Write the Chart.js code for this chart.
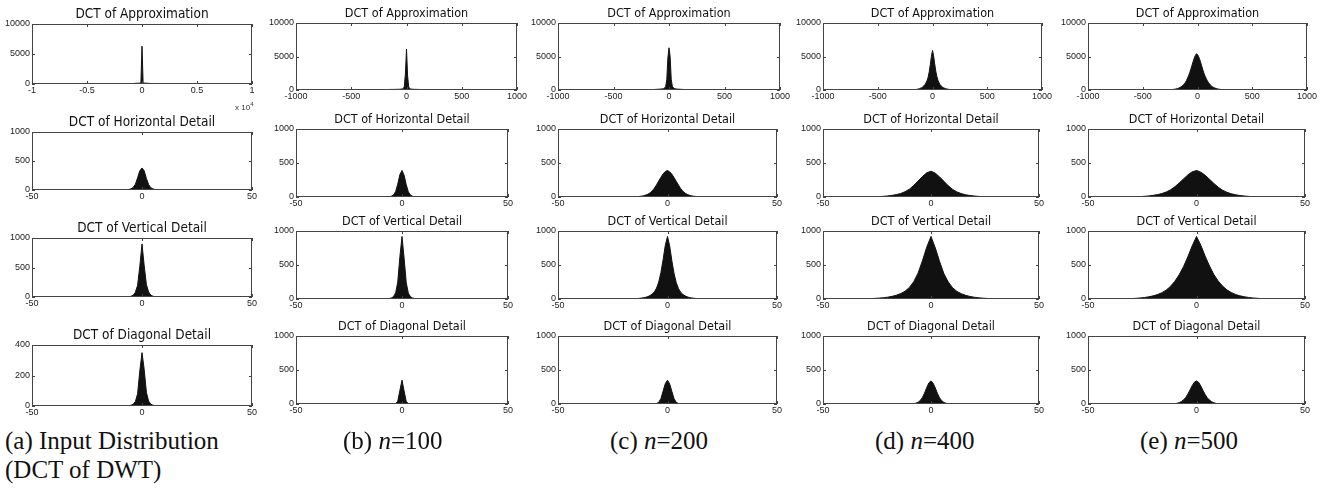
<!DOCTYPE html>
<html>
<head>
<meta charset="utf-8">
<script src="https://cdn.jsdelivr.net/npm/chart.js@4.4.1/dist/chart.umd.min.js"></script>
<style>
  body { margin: 0; background: #fff; }
  #wrap { position: relative; width: 1327px; height: 491px; overflow: hidden; background: #fff; }
  canvas { position: absolute; }
  .cap { position: absolute; font-family: "Liberation Serif", "Times New Roman", serif; font-size: 25px; color: #111; white-space: nowrap; }
  .cap i { font-style: italic; }
  .exp { position: absolute; font-family: "Liberation Sans", Arial, sans-serif; font-size: 8px; color: #333; }
</style>
</head>
<body>
<div id="wrap"></div>
<script>
// ---- bins (x values of histogram bins) ----
const approxBinsA = [-1000, -900, -800, -700, -600, -500, -400, -300, -200, -100, 0, 100, 200, 300, 400, 500, 600, 700, 800, 900, 1000];
const approxBins = [-300, -290, -280, -270, -260, -250, -240, -230, -220, -210,
  -200, -190, -180, -170, -160, -150, -140, -130, -120, -110, -100, -90, -80, -70, -60, -50, -40,
  -30, -20, -10, 0, 10, 20, 30,
  40, 50, 60, 70, 80, 90, 100, 110, 120, 130, 140, 150, 160, 170, 180, 190, 200,
  210, 220, 230, 240, 250, 260, 270, 280, 290, 300];
const binsN = [-8, -7, -6, -5, -4, -3, -2, -1, 0, 1, 2, 3, 4, 5, 6, 7, 8];
const binsM = [-16, -15, -14, -13, -12, -11, -10, -9, -8, -7, -6, -5, -4, -3, -2, -1, 0,
  1, 2, 3, 4, 5, 6, 7, 8, 9, 10, 11, 12, 13, 14, 15, 16];
const binsW = [-30, -28, -26, -24, -22, -20, -18, -16, -14, -12, -10, -8, -6, -4, -2, 0,
  2, 4, 6, 8, 10, 12, 14, 16, 18, 20, 22, 24, 26, 28, 30];

// ---- counts, row 1: DCT of Approximation ----
const approxA = [0, 0, 80, 100, 110, 120, 130, 140, 150, 160, 6300, 160, 150, 140, 130, 120, 110, 100, 80, 0, 0];
const approxB = [20, 0, 25, 0, 20, 30, 0, 25, 30, 20,
  60, 70, 60, 80, 70, 80, 90, 80, 90, 100, 90, 100, 110, 100, 120, 130, 150,
  200, 500, 2400, 6100, 2100, 450, 180,
  140, 120, 110, 100, 100, 90, 90, 80, 80, 70, 70, 60, 60, 50, 50, 40, 40,
  30, 20, 0, 25, 0, 20, 30, 0, 20, 0];
const approxC = [20, 0, 20, 30, 0, 25, 20, 0, 30, 20,
  40, 50, 50, 60, 60, 70, 70, 80, 90, 100, 110, 120, 130, 150, 170, 200, 300,
  500, 1500, 4800, 6300, 5000, 1600, 550,
  320, 210, 170, 150, 130, 120, 110, 100, 90, 80, 70, 60, 60, 50, 50, 40, 40,
  30, 0, 20, 25, 0, 30, 20, 0, 20, 0];
const approxD = [0, 0, 0, 5, 5, 10, 10, 15, 15, 20,
  20, 25, 35, 45, 60, 80, 110, 150, 200, 270, 350, 450, 600, 800, 1050, 1400, 1900,
  2700, 3800, 5000, 5900, 5100, 3900, 2800,
  2000, 1450, 1050, 780, 590, 450, 350, 270, 210, 160, 120, 90, 70, 50, 40, 30, 25,
  20, 15, 15, 10, 10, 5, 5, 0, 0, 0];
const approxE = [10, 15, 20, 25, 35, 45, 60, 75, 95, 120,
  150, 190, 240, 300, 380, 470, 590, 740, 920, 1150, 1450, 1800, 2200, 2650, 3150, 3700, 4250,
  4750, 5150, 5400, 5300, 5000, 4550, 4050,
  3500, 2950, 2450, 2050, 1700, 1380, 1110, 890, 710, 560, 440, 350, 280, 220, 175, 140, 110,
  90, 70, 55, 45, 35, 25, 20, 15, 10, 5];

// ---- row 2: DCT of Horizontal Detail ----
const horizA = [0, 5, 10, 20, 45, 100, 210, 330, 380, 330, 200, 95, 40, 18, 8, 4, 0];
const horizB = [0, 2, 5, 12, 30, 80, 190, 330, 390, 320, 180, 75, 28, 10, 4, 2, 0];
const horizC = [0, 3, 5, 8, 12, 18, 28, 40, 60, 90, 130, 180, 235, 290, 340, 375, 390,
  370, 335, 285, 230, 175, 125, 85, 58, 38, 26, 17, 11, 7, 4, 2, 0];
const horizD = [0, 2, 4, 6, 10, 16, 24, 35, 52, 78, 115, 170, 235, 300, 355, 380,
  350, 295, 230, 165, 112, 75, 50, 33, 22, 15, 9, 5, 3, 2, 0];
const horizE = [0, 3, 6, 10, 16, 24, 35, 50, 72, 105, 150, 205, 265, 325, 370, 390,
  365, 320, 260, 200, 145, 100, 70, 48, 33, 22, 15, 9, 5, 3, 0];

// ---- row 3: DCT of Vertical Detail ----
const vertA = [0, 2, 5, 12, 30, 80, 200, 520, 900, 530, 210, 85, 32, 12, 5, 2, 0];
const vertB = [2, 4, 8, 15, 35, 90, 250, 620, 920, 600, 240, 85, 33, 14, 7, 4, 2];
const vertC = [3, 4, 6, 9, 13, 18, 25, 35, 50, 72, 105, 160, 250, 390, 580, 790, 920,
  780, 560, 375, 240, 155, 100, 68, 46, 32, 22, 16, 11, 8, 5, 4, 3];
const vertD = [4, 6, 9, 13, 19, 27, 39, 56, 80, 115, 170, 255, 380, 560, 760, 920,
  750, 550, 370, 250, 165, 112, 78, 54, 38, 26, 18, 12, 8, 5, 3];
const vertE = [6, 10, 15, 22, 32, 46, 65, 92, 130, 185, 260, 355, 475, 620, 780, 920,
  790, 630, 485, 360, 265, 190, 135, 95, 67, 47, 33, 23, 15, 10, 6];

// ---- row 4: DCT of Diagonal Detail ----
const diagA = [0, 0, 2, 5, 12, 30, 80, 230, 350, 240, 90, 32, 12, 5, 2, 0, 0];
const diagB = [0, 0, 0, 0, 2, 8, 40, 200, 350, 190, 35, 6, 1, 0, 0, 0, 0];
const diagC = [0, 0, 2, 8, 25, 80, 190, 300, 350, 295, 185, 78, 24, 7, 2, 0, 0];
const diagD = [0, 0, 0, 0, 0, 0, 0, 2, 5, 12, 25, 50, 95, 160, 240, 310, 340,
  305, 235, 155, 90, 48, 22, 10, 4, 1, 0, 0, 0, 0, 0, 0, 0];
const diagE = [0, 0, 0, 0, 0, 2, 5, 10, 20, 35, 60, 95, 145, 205, 270, 320, 340,
  318, 265, 200, 140, 90, 57, 33, 18, 9, 4, 2, 0, 0, 0, 0, 0];

// ---- ticks and texts ----
const rowTitles = ['DCT of Approximation', 'DCT of Horizontal Detail', 'DCT of Vertical Detail', 'DCT of Diagonal Detail'];
const approxXTicksA = [-10000, -5000, 0, 5000, 10000];
const approxXLabelsA = ['-1', '-0.5', '0', '0.5', '1'];
const approxXTicks = [-1000, -500, 0, 500, 1000];
const detailXTicks = [-50, 0, 50];
const approxYTicks = [0, 5000, 10000];
const detailYTicks = [0, 500, 1000];
const diagYTicksA = [0, 200, 400];
const captions = [
  '(a) Input Distribution<br>(DCT of DWT)',
  '(b) <i>n</i>=100', '(c) <i>n</i>=200', '(d) <i>n</i>=400', '(e) <i>n</i>=500'
];

// ---- panel geometry (plot box in page pixels) ----
const colLeft = [32, 296, 558, 823, 1088];
const colRightApprox = [252, 517, 780, 1042, 1307];
const colRightDetail = [252, 508, 777, 1039, 1305];
const rowTopA = [24, 132, 238, 345], rowBottomA = [84, 190, 297, 406];
const rowTop = [23, 129, 231, 336], rowBottom = [90, 197, 299, 404];
const capLeft = [5, 343, 610, 875, 1140];

const YW = 40, TH = 18, XH = 14, RP = 16;
const wrap = document.getElementById('wrap');

const boxPlugin = {
  id: 'box',
  afterDraw(chart) {
    const { ctx, chartArea: a, scales: { x, y } } = chart;
    ctx.save();
    ctx.strokeStyle = '#444';
    ctx.lineWidth = 1;
    ctx.strokeRect(a.left + 0.5, a.top + 0.5, a.right - a.left - 1, a.bottom - a.top - 1);
    ctx.beginPath();
    x.ticks.forEach(t => {
      const px = Math.round(x.getPixelForValue(t.value)) + 0.5;
      ctx.moveTo(px, a.bottom); ctx.lineTo(px, a.bottom - 3);
      ctx.moveTo(px, a.top); ctx.lineTo(px, a.top + 3);
    });
    y.ticks.forEach(t => {
      const py = Math.round(y.getPixelForValue(t.value)) + 0.5;
      ctx.moveTo(a.left, py); ctx.lineTo(a.left + 3, py);
      ctx.moveTo(a.right, py); ctx.lineTo(a.right - 3, py);
    });
    ctx.stroke();
    ctx.restore();
  }
};

function makePanel(col, row, bins, counts, xTicks, yTicks, xLabels) {
  const left = colLeft[col];
  const right = row === 0 ? colRightApprox[col] : colRightDetail[col];
  const top = col === 0 ? rowTopA[row] : rowTop[row];
  const bottom = col === 0 ? rowBottomA[row] : rowBottom[row];
  const cv = document.createElement('canvas');
  cv.width = right - left + YW + RP;
  cv.height = bottom - top + TH + XH;
  cv.style.left = (left - YW) + 'px';
  cv.style.top = (top - TH) + 'px';
  wrap.appendChild(cv);
  const titleSize = col === 0 ? 13.5 : 12.5;
  const tickFont = { family: '"Liberation Sans", Arial, sans-serif', size: 9 };

  new Chart(cv.getContext('2d'), {
    type: 'line',
    data: {
      datasets: [{
        data: bins.map((b, i) => ({ x: b, y: counts[i] })),
        fill: 'origin',
        backgroundColor: '#111',
        borderColor: '#111',
        borderWidth: 1,
        pointRadius: 0,
        tension: 0
      }]
    },
    options: {
      responsive: false,
      animation: false,
      devicePixelRatio: 1,
      layout: { padding: { left: 0, right: RP, top: 0, bottom: 0 } },
      plugins: {
        legend: { display: false },
        tooltip: { enabled: false },
        title: {
          display: true,
          fullSize: false,
          text: rowTitles[row],
          color: '#111',
          font: { family: '"DejaVu Sans Condensed", "DejaVu Sans", sans-serif', size: titleSize, weight: 'normal', lineHeight: 1 },
          padding: { top: TH - titleSize - 3, bottom: 3 }
        }
      },
      scales: {
        x: {
          type: 'linear',
          min: xTicks[0], max: xTicks[xTicks.length - 1],
          grid: { display: false, drawTicks: false },
          border: { display: false },
          afterBuildTicks: s => { s.ticks = xTicks.map(v => ({ value: v })); },
          afterFit: s => { s.height = XH; s.paddingLeft = 0; s.paddingRight = 0; },
          ticks: {
            autoSkip: false, maxRotation: 0, padding: 1, color: '#222', font: tickFont,
            callback: v => xLabels ? xLabels[xTicks.indexOf(v)] : String(v)
          }
        },
        y: {
          min: yTicks[0], max: yTicks[yTicks.length - 1],
          grid: { display: false, drawTicks: false },
          border: { display: false },
          afterBuildTicks: s => { s.ticks = yTicks.map(v => ({ value: v })); },
          afterFit: s => { s.width = YW; s.paddingTop = 0; s.paddingBottom = 0; },
          ticks: { autoSkip: false, padding: 2, color: '#222', font: tickFont, callback: v => String(v) }
        }
      }
    },
    plugins: [boxPlugin]
  });
}

// row 1
makePanel(0, 0, approxBinsA, approxA, approxXTicksA, approxYTicks, approxXLabelsA);
makePanel(1, 0, approxBins, approxB, approxXTicks, approxYTicks);
makePanel(2, 0, approxBins, approxC, approxXTicks, approxYTicks);
makePanel(3, 0, approxBins, approxD, approxXTicks, approxYTicks);
makePanel(4, 0, approxBins, approxE, approxXTicks, approxYTicks);
// row 2
makePanel(0, 1, binsN, horizA, detailXTicks, detailYTicks);
makePanel(1, 1, binsN, horizB, detailXTicks, detailYTicks);
makePanel(2, 1, binsM, horizC, detailXTicks, detailYTicks);
makePanel(3, 1, binsW, horizD, detailXTicks, detailYTicks);
makePanel(4, 1, binsW, horizE, detailXTicks, detailYTicks);
// row 3
makePanel(0, 2, binsN, vertA, detailXTicks, detailYTicks);
makePanel(1, 2, binsN, vertB, detailXTicks, detailYTicks);
makePanel(2, 2, binsM, vertC, detailXTicks, detailYTicks);
makePanel(3, 2, binsW, vertD, detailXTicks, detailYTicks);
makePanel(4, 2, binsW, vertE, detailXTicks, detailYTicks);
// row 4
makePanel(0, 3, binsN, diagA, detailXTicks, diagYTicksA);
makePanel(1, 3, binsN, diagB, detailXTicks, detailYTicks);
makePanel(2, 3, binsN, diagC, detailXTicks, detailYTicks);
makePanel(3, 3, binsM, diagD, detailXTicks, detailYTicks);
makePanel(4, 3, binsM, diagE, detailXTicks, detailYTicks);

// exponent label of first panel
const exp = document.createElement('div');
exp.className = 'exp';
exp.style.left = '235px';
exp.style.top = '101px';
exp.innerHTML = 'x 10<sup style="font-size:6px">4</sup>';
wrap.appendChild(exp);

// captions
captions.forEach((c, i) => {
  const d = document.createElement('div');
  d.className = 'cap';
  d.style.left = capLeft[i] + 'px';
  d.style.top = '426px';
  d.style.lineHeight = '29px';
  d.innerHTML = c;
  wrap.appendChild(d);
});
</script>
</body>
</html>
